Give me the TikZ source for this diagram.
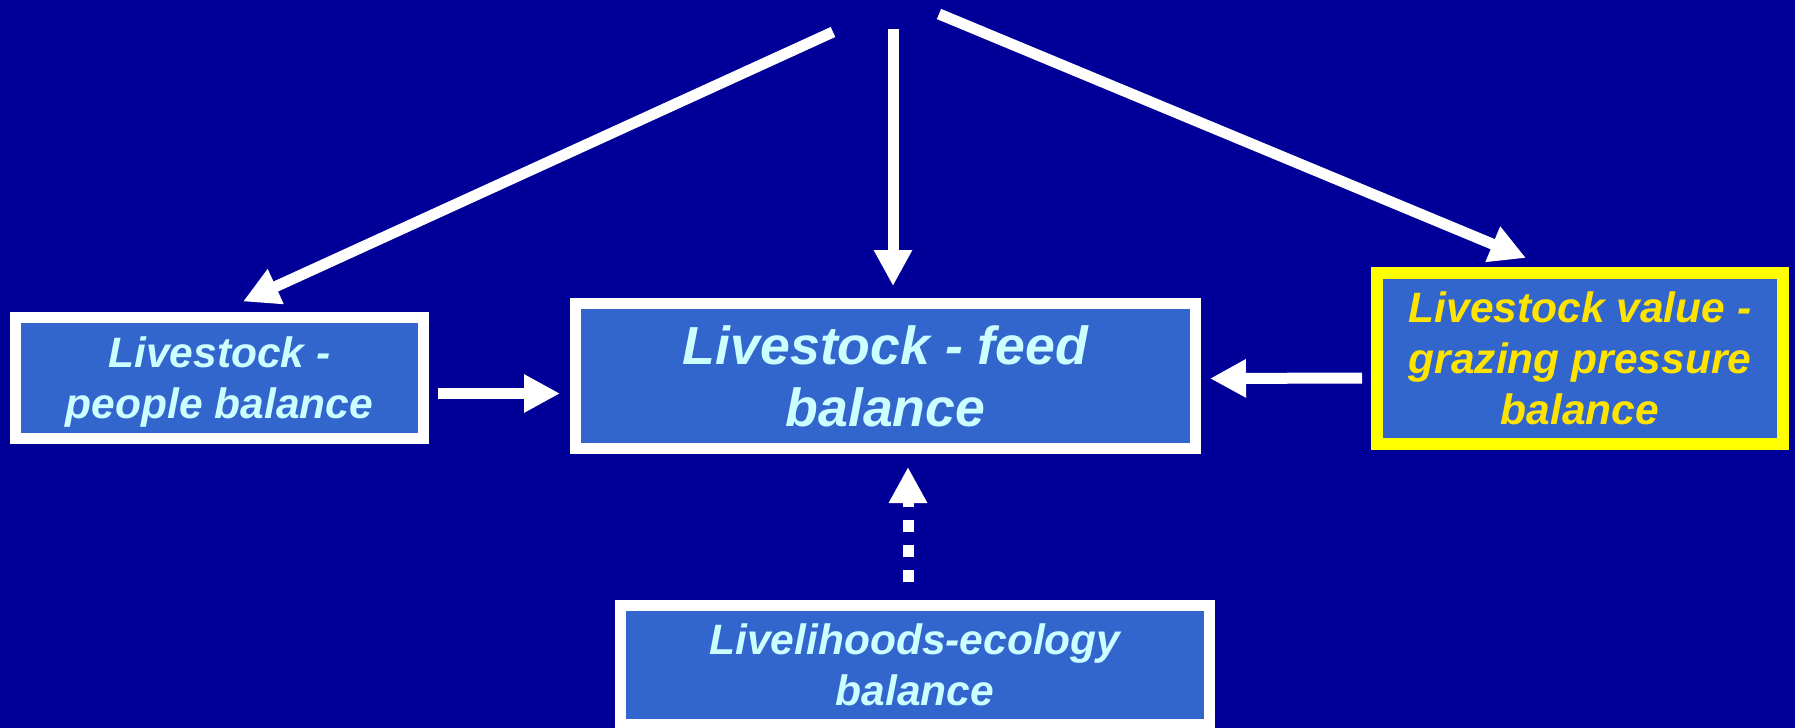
\documentclass[tikz,border=0pt]{standalone}
\usepackage{fontspec}
\setmainfont{Liberation Sans}
\usepackage{tikz}
\usetikzlibrary{arrows.meta,calc}
\definecolor{Back_blue}{RGB}{0, 0, 153}
\definecolor{Box_blue}{RGB}{51, 102, 204}
\definecolor{Label_cyan}{RGB}{204, 255, 255}
\definecolor{Frame_yellow}{RGB}{255, 255, 0}
\definecolor{Label_gold}{RGB}{255, 228, 0}
\tikzset{
    balance box/.style={
        draw=white, line width=5.5pt, fill=Box_blue, text=Label_cyan,
        align=center, inner sep=0pt,
        font=\bfseries\itshape\fontsize{21.25}{25.5}\selectfont
    },
    fat arrow/.style={
        white, line width=5.5pt, -{Triangle[length=18pt, width=18pt]}
    }
}

\begin{document}
\begin{tikzpicture}[x=0.5pt, y=-0.5pt]
    %% Background
    \useasboundingbox (0,0) rectangle (1795,728);
    \fill[Back_blue] (0,0) rectangle (1795,728);

    %% Balances
    \node[balance box, minimum width=204pt, minimum height=60.5pt] (people) at (219.5,377.5)
        {Livestock -\\\raisebox{0pt}[\height][0pt]{people balance}};
    \node[balance box, minimum width=310pt, minimum height=72.5pt,
        font=\bfseries\itshape\fontsize{26.8}{31}\selectfont] (feed) at (885.5,376)
        {Livestock - feed\\balance};
    \node[balance box, draw=Frame_yellow, line width=6pt, text=Label_gold,
        minimum width=203pt, minimum height=85.5pt] (grazing) at (1580,358.5)
        {Livestock value -\\grazing pressure\\balance};
    \node[balance box, minimum width=294.5pt, minimum height=59.5pt] (ecology) at (915,665)
        {Livelihoods-ecology\\balance};

    %% Top arrows
    \coordinate (srcL) at (833,32);
    \coordinate (srcM) at (893,29);
    \coordinate (srcR) at (939,14);
    \draw[fat arrow] (srcL) -- ($(people.north)+(23.5,-10)$);
    \draw[fat arrow] (srcM) -- ($(srcM |- feed.north)+(0,-12)$);
    \draw[fat arrow] (srcR) -- ($(grazing.north)+(-54,-9)$);

    %% Side arrows
    \draw[fat arrow] ($(people.east)+(9,16)$) -- ($(feed.west |- people.east)+(-10,16)$);
    \draw[fat arrow] ($(grazing.west)+(-9,19.5)$) -- ($(feed.east |- grazing.west)+(9,20)$);

    %% Dotted arrow
    \draw[fat arrow, dash pattern=on 6pt off 6.5pt] ($(ecology.north)+(-7,-18)$) -- ($(feed.south)+(22.5,13)$);
\end{tikzpicture}
\end{document}
